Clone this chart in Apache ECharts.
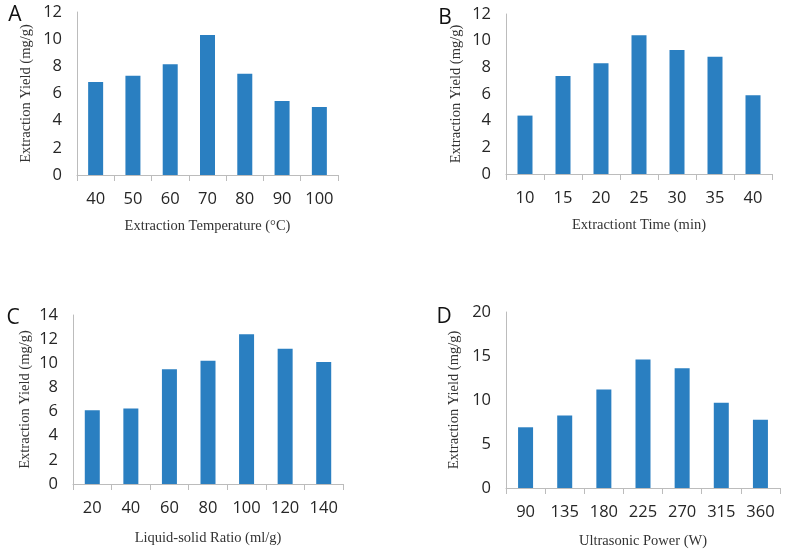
<!DOCTYPE html>
<html>
<head>
<meta charset="utf-8">
<script src="https://cdn.jsdelivr.net/npm/echarts@6/dist/echarts.min.js"></script>
<style>html,body{margin:0;padding:0;background:#fff}#c{width:785px;height:553px}</style>
</head>
<body>
<div id="c"></div>
<script>
const tempCats = ['40','50','60','70','80','90','100'];
const tempVals = [6.85, 7.3, 8.15, 10.3, 7.45, 5.45, 5.0];
const timeCats = ['10','15','20','25','30','35','40'];
const timeVals = [4.38, 7.35, 8.3, 10.4, 9.3, 8.8, 5.9];
const ratioCats = ['20','40','60','80','100','120','140'];
const ratioVals = [6.1, 6.25, 9.5, 10.2, 12.4, 11.2, 10.1];
const powerCats = ['90','135','180','225','270','315','360'];
const powerVals = [6.9, 8.25, 11.2, 14.6, 13.6, 9.7, 7.75];
const yMax = [12, 12, 14, 20];
const yStep = [2, 2, 2, 5];
const xNames = ['Extraction Temperature (°C)', 'Extractiont Time (min)', 'Liquid-solid Ratio (ml/g)', 'Ultrasonic Power (W)'];
const yName = 'Extraction Yield (mg/g)';
const panelLetters = ['A', 'B', 'C', 'D'];

const cats = [tempCats, timeCats, ratioCats, powerCats];
const vals = [tempVals, timeVals, ratioVals, powerVals];

const grids = [
  {left: 77, top: 12, width: 261, height: 163},
  {left: 506, top: 14, width: 266, height: 160},
  {left: 73, top: 315, width: 270, height: 169},
  {left: 506, top: 312, width: 274, height: 176}
];
const xNameGap = [44, 44, 47, 46];
const yNameGap = [43, 42, 40, 44];
const letterPos = [[15, 15], [445, 18], [13, 318], [444, 317]];

const axisColor = '#bcbcbc';
const labelFont = {fontFamily: 'Open Sans', fontSize: 16.5, color: '#262626'};
const nameFont = {fontFamily: 'Liberation Serif', fontSize: 14.5, color: '#333'};

const chart = echarts.init(document.getElementById('c'), null, {renderer: 'canvas'});
chart.setOption({
  animation: false,
  backgroundColor: '#fff',
  grid: grids.map(g => Object.assign({containLabel: false}, g)),
  xAxis: cats.map((c, i) => ({
    type: 'category', gridIndex: i, data: c,
    name: xNames[i], nameLocation: 'middle', nameGap: xNameGap[i], nameTextStyle: nameFont,
    axisLine: {lineStyle: {color: axisColor, width: 1}},
    axisTick: {show: true, length: 6, lineStyle: {color: axisColor}},
    axisLabel: Object.assign({margin: 16}, labelFont),
    splitLine: {show: false}
  })),
  yAxis: cats.map((c, i) => ({
    type: 'value', gridIndex: i, min: 0, max: yMax[i], interval: yStep[i],
    name: yName, nameLocation: 'middle', nameGap: yNameGap[i], nameTextStyle: nameFont,
    axisLine: {show: true, lineStyle: {color: axisColor, width: 1}},
    axisTick: {show: false},
    axisLabel: Object.assign({margin: 15}, labelFont),
    splitLine: {show: false}
  })),
  series: vals.map((v, i) => ({
    type: 'bar', xAxisIndex: i, yAxisIndex: i, data: v,
    barWidth: 15, itemStyle: {color: '#2a7fc1'}
  })),
  graphic: panelLetters.map((t, i) => ({
    type: 'text', x: letterPos[i][0], y: letterPos[i][1],
    style: {text: t, fontFamily: 'Open Sans', fontSize: 21, fill: '#111', align: 'center', verticalAlign: 'middle'}
  }))
});
</script>
</body>
</html>
